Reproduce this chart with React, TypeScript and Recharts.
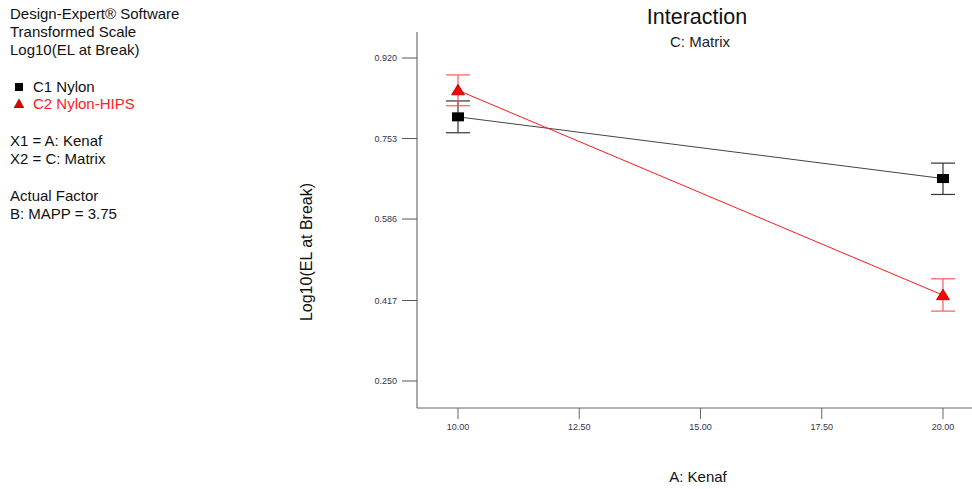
import { ComposedChart, Line, XAxis, YAxis, ErrorBar } from "recharts";

const kenaf = [10, 20];
const nylon = [0.798, 0.67];
const nylonErr = [
  [0.033, 0.033],
  [0.033, 0.032],
];
const nylonHips = [0.853, 0.428];
const nylonHipsErr = [
  [0.032, 0.032],
  [0.033, 0.034],
];
const xTicks = [10, 12.5, 15, 17.5, 20];
const yTicks = [0.25, 0.417, 0.586, 0.753, 0.92];

const data = kenaf.map((k, i) => ({
  kenaf: k,
  nylon: nylon[i],
  nylonErr: nylonErr[i],
  hips: nylonHips[i],
  hipsErr: nylonHipsErr[i],
}));

const font = "'Liberation Sans', Arial, sans-serif";
const tickStyle = { fontSize: 9, fill: "#33334d", fontFamily: font };

function SquareDot(props: any) {
  const { cx, cy, index } = props;
  if (cx == null || cy == null) return <g key={index} />;
  return <rect key={index} x={cx - 6} y={cy - 4.5} width={12} height={9} fill="#000" />;
}

function TriangleDot(props: any) {
  const { cx, cy, index } = props;
  if (cx == null || cy == null) return <g key={index} />;
  return (
    <path
      key={index}
      d={`M${cx},${cy - 6} L${cx + 6.5},${cy + 4.5} L${cx - 6.5},${cy + 4.5} Z`}
      fill="#ff0000"
      stroke="#aa0000"
      strokeWidth={0.8}
    />
  );
}

export default function App() {
  return (
    <div
      style={{
        position: "absolute",
        left: 0,
        top: 0,
        width: 972,
        height: 489,
        fontFamily: font,
        background: "#fff",
        overflow: "hidden",
      }}
    >
      <div style={{ position: "absolute", left: 10, top: 5, fontSize: 15, lineHeight: "18px", color: "#111" }}>
        <div>Design-Expert® Software</div>
        <div>Transformed Scale</div>
        <div>Log10(EL at Break)</div>
        <div style={{ height: 19 }} />
        <div style={{ display: "flex", alignItems: "center", height: 17 }}>
          <span style={{ display: "inline-block", width: 8, height: 8, background: "#000", marginLeft: 5, marginRight: 10 }} />
          <span>C1 Nylon</span>
        </div>
        <div style={{ display: "flex", alignItems: "center", height: 17, color: "#ff2020" }}>
          <svg width={10} height={9} style={{ marginLeft: 4, marginRight: 9 }}>
            <path d="M5,0 L10,9 L0,9 Z" fill="#dd0000" stroke="#990000" strokeWidth={0.6} />
          </svg>
          <span>C2 Nylon-HIPS</span>
        </div>
        <div style={{ height: 20 }} />
        <div>X1 = A: Kenaf</div>
        <div>X2 = C: Matrix</div>
        <div style={{ height: 19 }} />
        <div>Actual Factor</div>
        <div>B: MAPP = 3.75</div>
      </div>

      <div style={{ position: "absolute", left: 597, width: 200, top: 5, textAlign: "center", fontSize: 21.5, color: "#111" }}>
        Interaction
      </div>
      <div style={{ position: "absolute", left: 600, width: 200, top: 33, textAlign: "center", fontSize: 15, color: "#222" }}>
        C: Matrix
      </div>
      <div style={{ position: "absolute", left: 598, width: 200, top: 468, textAlign: "center", fontSize: 15, color: "#111" }}>
        A: Kenaf
      </div>
      <div
        style={{
          position: "absolute",
          left: 207,
          top: 243,
          width: 200,
          textAlign: "center",
          fontSize: 16,
          lineHeight: "18px",
          color: "#111",
          transform: "rotate(-90deg)",
        }}
      >
        Log10(EL at Break)
      </div>

      <ComposedChart
        width={972}
        height={489}
        data={data}
        margin={{ top: 32, right: 0, bottom: 51, left: 357 }}
      >
        <XAxis
          dataKey="kenaf"
          type="number"
          domain={[9.155, 20.598]}
          ticks={xTicks}
          tickFormatter={(v: number) => v.toFixed(2)}
          allowDataOverflow
          height={30}
          tickSize={11}
          tickMargin={5}
          tick={tickStyle}
          stroke="#666"
        />
        <XAxis
          xAxisId="top"
          orientation="top"
          dataKey="kenaf"
          type="number"
          domain={[9.155, 20.598]}
          tick={false}
          tickLine={false}
          height={0}
          stroke="#777"
          strokeWidth={1.5}
        />
        <YAxis
          type="number"
          domain={[0.194, 0.974]}
          ticks={yTicks}
          tickFormatter={(v: number) => v.toFixed(3)}
          allowDataOverflow
          width={60}
          tickSize={15}
          tickMargin={5}
          tick={tickStyle}
          stroke="#555"
        />
        <Line
          dataKey="nylon"
          stroke="#444"
          strokeWidth={1}
          dot={SquareDot}
          activeDot={false}
          isAnimationActive={false}
        >
          <ErrorBar dataKey="nylonErr" direction="y" width={12} stroke="#333" strokeWidth={1.2} />
        </Line>
        <Line
          dataKey="hips"
          stroke="#ff1a1a"
          strokeWidth={1}
          dot={TriangleDot}
          activeDot={false}
          isAnimationActive={false}
        >
          <ErrorBar dataKey="hipsErr" direction="y" width={12} stroke="#ff5a5a" strokeWidth={1.2} />
        </Line>
      </ComposedChart>
    </div>
  );
}
